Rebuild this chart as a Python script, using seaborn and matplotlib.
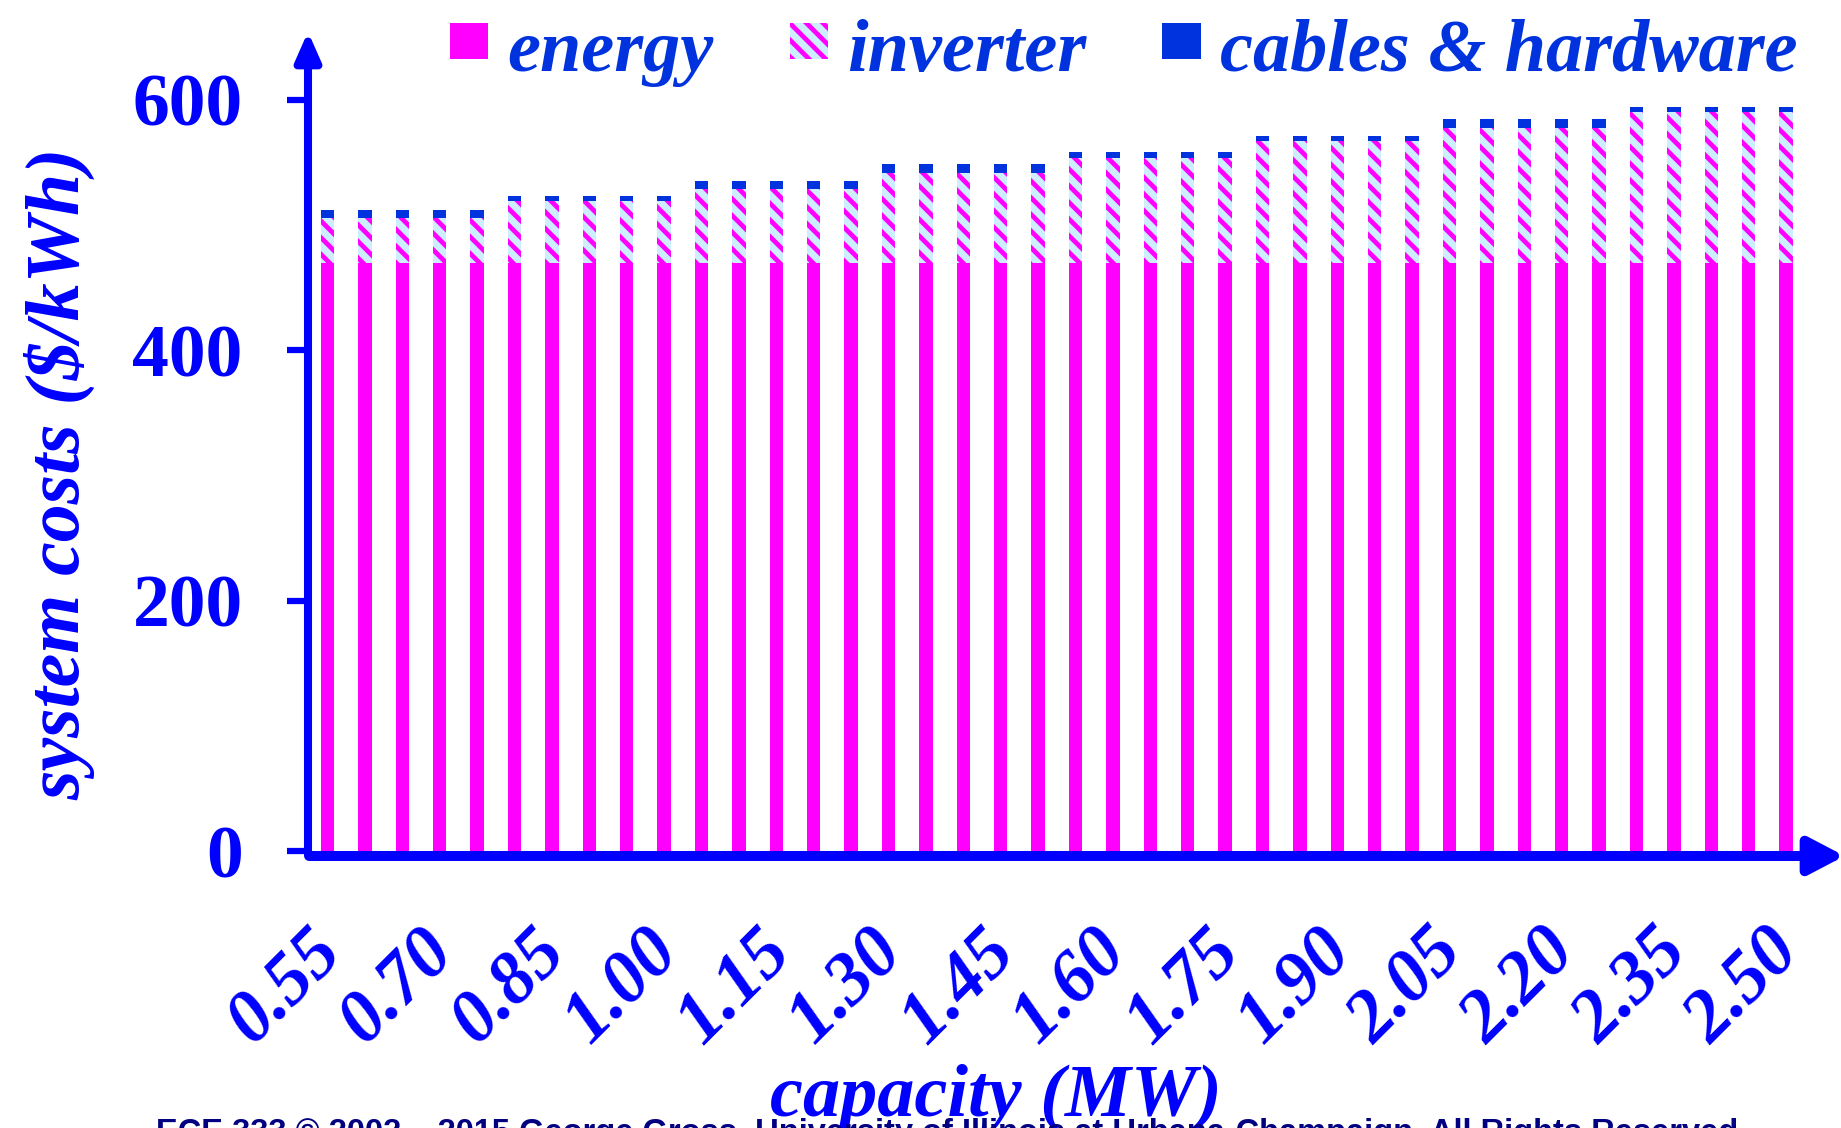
import matplotlib
matplotlib.use("Agg")
import matplotlib.pyplot as plt
import matplotlib.transforms as mtransforms
from matplotlib.patches import Patch
from matplotlib.legend_handler import HandlerPatch
import pandas as pd
import seaborn as sns

# ---- data -------------------------------------------------------------
capacity = [
    "0.55", "0.60", "0.65", "0.70", "0.75",
    "0.80", "0.85", "0.90", "0.95", "1.00",
    "1.05", "1.10", "1.15", "1.20", "1.25",
    "1.30", "1.35", "1.40", "1.45", "1.50",
    "1.55", "1.60", "1.65", "1.70", "1.75",
    "1.80", "1.85", "1.90", "1.95", "2.00",
    "2.05", "2.10", "2.15", "2.20", "2.25",
    "2.30", "2.35", "2.40", "2.45", "2.50",
]
energy = [
    470, 470, 470, 470, 470,
    470, 470, 470, 470, 470,
    470, 470, 470, 470, 470,
    470, 470, 470, 470, 470,
    470, 470, 470, 470, 470,
    470, 470, 470, 470, 470,
    470, 470, 470, 470, 470,
    470, 470, 470, 470, 470,
]
inverter = [
    36, 36, 36, 36, 36,
    49, 49, 49, 49, 49,
    59, 59, 59, 59, 59,
    72, 72, 72, 72, 72,
    84, 84, 84, 84, 84,
    97, 97, 97, 97, 97,
    108, 108, 108, 108, 108,
    120, 120, 120, 120, 120,
]
cables = [
    6.5, 6.5, 6.5, 6.5, 6.5,
    4.5, 4.5, 4.5, 4.5, 4.5,
    6.5, 6.5, 6.5, 6.5, 6.5,
    6.5, 6.5, 6.5, 6.5, 6.5,
    4.5, 4.5, 4.5, 4.5, 4.5,
    4.5, 4.5, 4.5, 4.5, 4.5,
    6.5, 6.5, 6.5, 6.5, 6.5,
    4.5, 4.5, 4.5, 4.5, 4.5,
]
xtick_labels = ["0.55", "0.70", "0.85", "1.00", "1.15", "1.30", "1.45",
                "1.60", "1.75", "1.90", "2.05", "2.20", "2.35", "2.50"]
ytick_values = [0, 200, 400, 600]
series_names = ["energy", "inverter", "cables & hardware"]

# ---- style ------------------------------------------------------------
AXIS_BLUE = "#0000FF"
LEGEND_BLUE = "#0033DD"
MAGENTA = "#FF00FF"
LIGHT_BLUE = "#CCEEFF"
CABLE_BLUE = "#0033DD"

sns.set_style("white")
plt.rcParams["font.family"] = ["Liberation Serif", "DejaVu Serif"]
plt.rcParams["hatch.linewidth"] = 3.4

df = pd.DataFrame({
    "capacity": capacity,
    "energy": energy,
    "inverter": inverter,
    "cables": cables,
})
df["inv_bottom"] = df["energy"]
df["cab_bottom"] = df["energy"] + df["inverter"]

W_PX, H_PX = 1841, 1128
fig = plt.figure(figsize=(W_PX / 100, H_PX / 100), dpi=100)
ax = fig.add_axes([308 / W_PX, (H_PX - 851) / H_PX,
                   (1840 - 308) / W_PX, (851 - 35) / H_PX])

bar_w = 0.36


def layer(y, color, bottom=None, hatch=None, edge=None):
    n0 = len(ax.patches)
    kws = {}
    if bottom is not None:
        kws["bottom"] = bottom
    sns.barplot(data=df, x="capacity", y=y, color=color, saturation=1,
                width=bar_w, errorbar=None, ax=ax, **kws)
    for p in ax.patches[n0:]:
        p.set_facecolor(color)
        p.set_linewidth(0)
        if hatch:
            p.set_hatch(hatch)
            p.set_edgecolor(edge)
        else:
            p.set_edgecolor(color)


layer("energy", MAGENTA)
layer("inverter", LIGHT_BLUE, bottom=df["inv_bottom"].tolist(),
      hatch="\\\\", edge=MAGENTA)
layer("cables", CABLE_BLUE, bottom=df["cab_bottom"].tolist())

x_step = 37.4
ax.set_xlim(-(327.5 - 308) / x_step, (1840 - 327.5) / x_step)
ax.set_ylim(0, (851 - 35) / 1.2517)

for s in ax.spines.values():
    s.set_visible(False)

# axes drawn as arrows
ax.annotate("", xy=(0, 1.004), xytext=(0, -0.004), xycoords="axes fraction",
            arrowprops=dict(arrowstyle="-|>,head_length=17,head_width=7.5",
                            mutation_scale=1, lw=5.8, color=AXIS_BLUE,
                            shrinkA=0, shrinkB=0), annotation_clip=False)
ax.annotate("", xy=(1.003, -0.0061), xytext=(0.0007, -0.0061),
            xycoords="axes fraction",
            arrowprops=dict(arrowstyle="-|>,head_length=21,head_width=11",
                            mutation_scale=1, lw=7.2, color=AXIS_BLUE,
                            shrinkA=0, shrinkB=0), annotation_clip=False)

# y ticks
ax.set_yticks(ytick_values)
ax.set_yticklabels([str(v) for v in ytick_values], fontsize=53,
                   fontweight="bold", color=AXIS_BLUE,
                   family=["Liberation Serif"])
ax.tick_params(axis="y", length=15, width=4.5, color=AXIS_BLUE,
               direction="out", pad=32, left=True)

# x ticks
ax.set_xticks(list(range(0, 40, 3)))
ax.set_xticklabels(xtick_labels, fontsize=53, fontweight="bold",
                   fontstyle="italic", color=AXIS_BLUE, rotation=45,
                   ha="right", va="center", rotation_mode="anchor",
                   family=["Liberation Serif"])
ax.tick_params(axis="x", length=0, pad=65, bottom=True)
shift = mtransforms.ScaledTranslation(4 / 100, 0, fig.dpi_scale_trans)
for lab in ax.get_xticklabels():
    lab.set_transform(lab.get_transform() + shift)

ax.set_xlabel("")
ax.set_ylabel("")

fig.text(60 / W_PX, 1 - 474 / H_PX, "system costs ($/kWh)", rotation=90,
         ha="center", va="center", fontsize=54.5, fontweight="bold",
         fontstyle="italic", color=AXIS_BLUE)
fig.text(996 / W_PX, (H_PX - 1116) / H_PX, "capacity (MW)", ha="center",
         va="baseline", fontsize=53.5, fontweight="bold", fontstyle="italic",
         color=AXIS_BLUE)
fig.text(156 / W_PX, 10 / H_PX,
         "ECE 333 \u00a9 2002 \u2013 2015 George Gross, University of Illinois "
         "at Urbana-Champaign, All Rights Reserved",
         ha="left", va="top", fontsize=23.5, fontweight="bold",
         color="#000080", family=["Liberation Sans", "DejaVu Sans"])

# legend
handles = [
    Patch(facecolor=MAGENTA, edgecolor=MAGENTA, linewidth=0),
    Patch(facecolor=LIGHT_BLUE, edgecolor=MAGENTA, hatch="\\\\", linewidth=0),
    Patch(facecolor=CABLE_BLUE, edgecolor=CABLE_BLUE, linewidth=0),
]
leg = fig.legend(handles, series_names, loc="upper left",
                 bbox_to_anchor=(450 / W_PX, 0.983), ncol=3, frameon=False,
                 borderpad=0, borderaxespad=0, handlelength=0.515,
                 handleheight=0.537, handletextpad=0.26, columnspacing=1.02,
                 handler_map={Patch: HandlerPatch(ypad=0.109)},
                 prop=dict(family="Liberation Serif", size=53.5,
                           weight="bold", style="italic"))
for t in leg.get_texts():
    t.set_color(LEGEND_BLUE)

fig.savefig("out.png", dpi=100)
